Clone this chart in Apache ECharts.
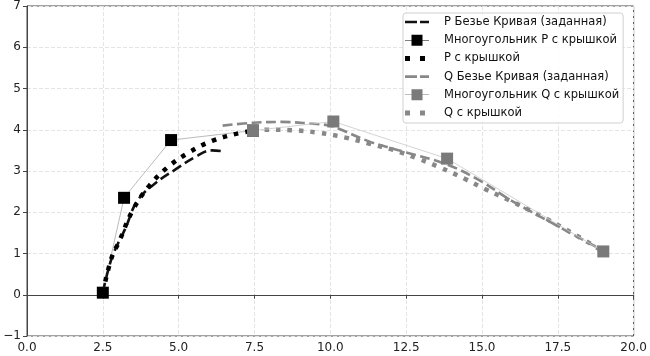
<!DOCTYPE html>
<html>
<head>
<meta charset="utf-8">
<script src="https://cdn.jsdelivr.net/npm/echarts@6/dist/echarts.min.js"></script>
<style>
html,body{margin:0;padding:0;background:#fff;}
#chart{width:650px;height:356px;}
</style>
</head>
<body>
<div id="chart"></div>
<script>
// названия серий (легенда)
var names = [
    'P Безье Кривая (заданная)',
    'Многоугольник P с крышкой',
    'P с крышкой',
    'Q Безье Кривая (заданная)',
    'Многоугольник Q с крышкой',
    'Q с крышкой'
];
// кривая P (заданная)
var pCurve = [[2.5,0.05],[2.8,0.9],[3.25,1.62],[3.64,2.28],[4.26,2.72],[4.92,3.05],[5.57,3.35],[6.1,3.5],[6.45,3.48]];
// многоугольник P
var pPoly = [[2.5,0.05],[3.2,2.35],[4.75,3.75],[7.45,3.98]];
// P с крышкой
var pCap = [[2.5,0.05],[2.79,0.9],[3.05,1.31],[3.48,2.04],[4.03,2.64],[4.62,3.08],[5.34,3.45],[6.1,3.73],[6.89,3.9],[7.45,3.98]];
// кривая Q (заданная)
var qCurve = [[6.45,4.1],[7.48,4.17],[8.4,4.19],[9.34,4.15],[10.0,4.1],[10.3,4.02],[11.34,3.7],[12.46,3.46],[13.87,3.15],[14.95,2.76],[15.93,2.3],[17.38,1.71],[18.69,1.19],[19.0,1.05]];
// многоугольник Q
var qPoly = [[7.45,3.98],[10.1,4.2],[13.85,3.3],[19.0,1.05]];
// Q с крышкой
var qCap = [[7.45,3.98],[7.9,4.0],[8.72,3.99],[9.6,3.93],[10.5,3.81],[11.3,3.66],[12.07,3.51],[12.89,3.3],[13.64,3.08],[14.43,2.81],[15.08,2.57],[15.93,2.28],[17.05,1.87],[18.13,1.43],[19.0,1.05]];

var xTicks = {min: 0, max: 20, step: 2.5};
var yTicks = {min: -1, max: 7, step: 1};

// значки легенды (рамка 34x12 задаётся двумя крошечными точками по углам)
var box = 'M0,0h0.01v0.01h-0.01zM33.99,11.99h0.01v0.01h-0.01z';
var iconDash = 'path://' + box + 'M0,4.7h12v2.6h-12zM15,4.7h9v2.6h-9z';
var iconDot = 'path://' + box + 'M0,3.5h5v5h-5zM15,3.5h5v5h-5z';
var iconPoly = 'path://' + box + 'M0,5.75h24v0.5h-24zM6.5,0.5h11v11h-11z';

var myChart = echarts.init(document.getElementById('chart'));
var font = 'DejaVu Sans';

var option = {
    animation: false,
    textStyle: {fontFamily: font},
    grid: {
        left: 27, right: 13, top: 6, bottom: 20,
        show: true,
        borderColor: '#444',
        borderWidth: 1
    },
    legend: {
        orient: 'vertical',
        left: 403,
        top: 13,
        padding: [2, 4, 3, 2],
        itemWidth: 34,
        itemHeight: 12,
        itemGap: 4.2,
        backgroundColor: 'rgba(255,255,255,0.85)',
        borderColor: '#d0d0d0',
        borderWidth: 1,
        borderRadius: 3,
        textStyle: {fontFamily: font, fontSize: 11.5, color: '#111', lineHeight: 14},
        data: [
            {name: names[0], icon: iconDash},
            {name: names[1], icon: iconPoly},
            {name: names[2], icon: iconDot},
            {name: names[3], icon: iconDash},
            {name: names[4], icon: iconPoly},
            {name: names[5], icon: iconDot}
        ]
    },
    xAxis: {
        type: 'value',
        min: xTicks.min,
        max: xTicks.max,
        interval: xTicks.step,
        axisLine: {lineStyle: {color: '#444'}},
        axisTick: {show: true, length: 4, lineStyle: {color: '#444'}},
        axisLabel: {
            color: '#222', fontSize: 12, margin: 6,
            formatter: function (v) { return v.toFixed(1); }
        },
        splitLine: {show: true, lineStyle: {color: '#e4e4e4', type: 'dashed'}}
    },
    yAxis: {
        type: 'value',
        min: yTicks.min,
        max: yTicks.max,
        interval: yTicks.step,
        axisLine: {show: true, lineStyle: {color: '#444'}},
        axisTick: {show: true, length: 4, lineStyle: {color: '#444'}},
        axisLabel: {
            color: '#222', fontSize: 12, margin: 6,
            formatter: function (v) { return v < 0 ? '\u2212' + Math.abs(v) : String(v); }
        },
        splitLine: {show: true, lineStyle: {color: '#e4e4e4', type: 'dashed'}}
    },
    series: [
        {
            name: names[0],
            type: 'line',
            symbol: 'none',
            smooth: 0.4,
            itemStyle: {color: '#111'},
            lineStyle: {color: '#111', width: 2.6, type: [10, 4.5]},
            data: pCurve,
            z: 3
        },
        {
            name: names[1],
            type: 'line',
            symbol: 'rect',
            symbolSize: 12,
            itemStyle: {color: '#000'},
            lineStyle: {color: '#aaa', width: 0.8},
            data: pPoly,
            z: 2
        },
        {
            name: names[2],
            type: 'line',
            symbol: 'none',
            smooth: 0.4,
            itemStyle: {color: '#000'},
            lineStyle: {color: '#000', width: 4.5, type: [4.5, 7], cap: 'butt'},
            data: pCap,
            z: 3
        },
        {
            name: names[3],
            type: 'line',
            symbol: 'none',
            smooth: 0.4,
            itemStyle: {color: '#888'},
            lineStyle: {color: '#888', width: 2.6, type: [10, 4.5]},
            data: qCurve,
            z: 3
        },
        {
            name: names[4],
            type: 'line',
            symbol: 'rect',
            symbolSize: 12,
            itemStyle: {color: '#7a7a7a'},
            lineStyle: {color: '#c8c8c8', width: 0.8},
            data: qPoly,
            z: 4
        },
        {
            name: names[5],
            type: 'line',
            symbol: 'none',
            smooth: 0.4,
            itemStyle: {color: '#888'},
            lineStyle: {color: '#888', width: 4.5, type: [4.5, 7], cap: 'butt'},
            data: qCap,
            z: 3
        }
    ]
};
myChart.setOption(option);
</script>
</body>
</html>
